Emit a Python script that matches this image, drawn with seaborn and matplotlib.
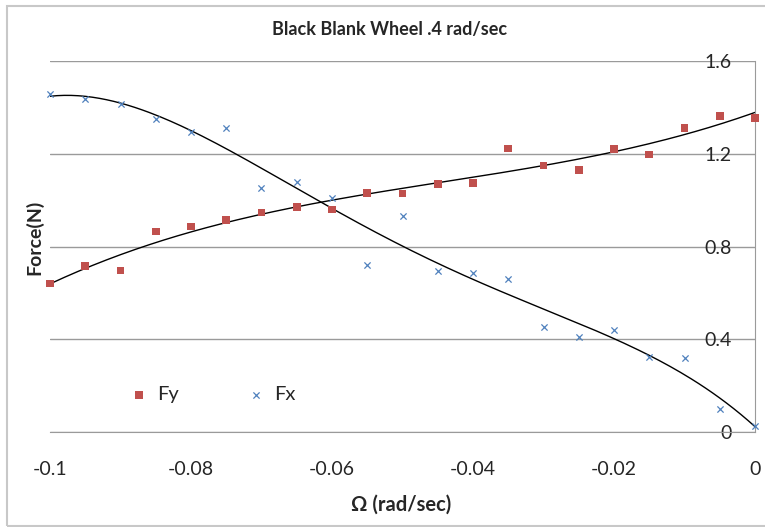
import numpy as np
import pandas as pd
import matplotlib
matplotlib.use("Agg")
import matplotlib.pyplot as plt
import seaborn as sns
from matplotlib.ticker import MultipleLocator
from matplotlib.patches import Rectangle

# values
omega = [-0.1, -0.095, -0.09, -0.085, -0.08, -0.075, -0.07, -0.065, -0.06, -0.055, -0.05,
         -0.045, -0.04, -0.035, -0.03, -0.025, -0.02, -0.015, -0.01, -0.005, 0.0]
fy = [0.641, 0.717, 0.696, 0.864, 0.887, 0.913, 0.946, 0.970, 0.959, 1.031, 1.028,
      1.070, 1.075, 1.222, 1.150, 1.131, 1.220, 1.196, 1.311, 1.363, 1.353]
fx = [1.458, 1.436, 1.416, 1.351, 1.294, 1.311, 1.052, 1.080, 1.008, 0.720, 0.933,
      0.696, 0.684, 0.658, 0.453, 0.408, 0.440, 0.322, 0.318, 0.099, 0.027]

red = "#C0504D"
blue = "#4F81BD"
grey = "#9A9A9A"

sns.set_style("white")
plt.rcParams['font.family'] = ['Lato', 'DejaVu Sans']

df = pd.DataFrame({"omega": omega, "Fy": fy, "Fx": fx})

fig = plt.figure(figsize=(7.65, 5.27), dpi=100)
ax = fig.add_axes([50 / 765, 1 - 432 / 527, 705 / 765, 371 / 527])

# Excel style polynomial trendlines
xs = np.linspace(-0.1, 0, 200)
for col, deg in [("Fy", 3), ("Fx", 4)]:
    coef = np.polyfit(df["omega"], df[col], deg)
    ax.plot(xs, np.polyval(coef, xs), color="black", lw=1, zorder=2)

sns.scatterplot(data=df, x="omega", y="Fy", ax=ax, marker="s", color=red, s=30,
                edgecolor="none", label="Fy", zorder=3, clip_on=False)
sns.scatterplot(data=df, x="omega", y="Fx", ax=ax, marker="x", color=blue, s=20,
                linewidth=0.9, label="Fx", zorder=3, clip_on=False)

ax.set_xlim(-0.1, 0)
ax.set_ylim(0, 1.6)

# axes: x axis at y=0, y axis at x=0 (right edge), labels left of it
for s in ["top", "right"]:
    ax.spines[s].set_visible(False)
ax.spines["left"].set_position(("data", 0))
ax.spines["left"].set_color(grey)
ax.spines["bottom"].set_color(grey)

ax.xaxis.set_minor_locator(MultipleLocator(0.004))
ax.yaxis.set_minor_locator(MultipleLocator(0.08))
ax.set_xticks([-0.1, -0.08, -0.06, -0.04, -0.02, 0])
ax.set_xticklabels(["-0.1", "-0.08", "-0.06", "-0.04", "-0.02", "0"])
ax.set_yticks([0, 0.4, 0.8, 1.2, 1.6])
ax.set_yticklabels(["0", "0.4", "0.8", "1.2", "1.6"])

ax.tick_params(axis="x", which="major", direction="inout", length=12, width=1,
               color=grey, labelsize=14, pad=15)
ax.tick_params(axis="x", which="minor", direction="in", length=5, width=1, color=grey)
ax.tick_params(axis="y", which="major", direction="inout", length=14, width=1,
               color=grey, labelsize=14, pad=10)
ax.tick_params(axis="y", which="minor", direction="out", length=5, width=1, color=grey)

ax.yaxis.grid(True, color=grey, lw=1)
ax.xaxis.grid(False)
ax.set_axisbelow(True)

ax.set_xlabel("")
ax.set_ylabel("")
fig.text(401 / 765, 1 - 505 / 527, "\u03a9 (rad/sec)", ha="center", va="center",
         fontsize=14.5, fontweight="bold")
fig.text(34 / 765, 1 - 237 / 527, "Force(N)", ha="center", va="center",
         rotation=90, fontsize=14, fontweight="bold")
fig.text(390 / 765, 1 - 30 / 527, "Black Blank Wheel .4 rad/sec", ha="center",
         va="center", fontsize=13, fontweight="bold")

ax.legend(loc="center", bbox_to_anchor=(0.23, 0.1), ncol=2, frameon=False,
          fontsize=14.5, columnspacing=3.3, handlelength=1.0, handletextpad=0.4,
          markerscale=1.0)

# light outer chart border
fig.patches.append(Rectangle((7 / 765, 1 / 527), 1.1, 520 / 527, transform=fig.transFigure,
                             fill=False, edgecolor="#C8C8C8", lw=1.5))

fig.savefig("out.png", dpi=100)
